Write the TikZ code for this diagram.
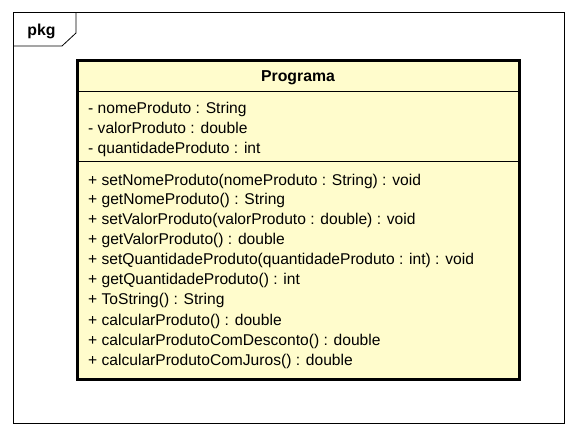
\documentclass[tikz,border=0pt]{standalone}
\usepackage{fontspec}
\setmainfont{Liberation Sans}
\tikzset{
  member/.style={anchor=base west, inner sep=0pt, font=\fontsize{15.6}{18}\selectfont},
  title/.style={anchor=base, inner sep=0pt, font=\bfseries\fontsize{15.8}{18}\selectfont},
  classfill/.style={fill=yellow!20!white}
}
\begin{document}
\begin{tikzpicture}[x=1pt,y=-1pt]
        \useasboundingbox (0,0) rectangle (577,436);
        % package frame
        \draw[line width=1pt] (13,13) rectangle (564,423);
        \draw[line width=0.8pt] (13,46) -- (62,46) -- (76,33) -- (76,13);
        \node[title] (pkg) at (41.5,35) {pkg};

        % class box
        \draw[classfill, line width=3pt] (77,60) rectangle (519,379);
        \draw[line width=0.8pt] (78.5,91) -- (517.5,91);
        \draw[line width=0.8pt] (78.5,161) -- (517.5,161);
        \node[title] (nome) at (298,81.5) {Programa};

        % attributes
        \node[member] (a1) at (88,113.5) {- nomeProduto : String};
        \node[member] (a2) at (88,133.5) {- valorProduto : double};
        \node[member] (a3) at (88,153.5) {- quantidadeProduto : int};

        % operations
        \node[member] (m1) at (88,185) {+ setNomeProduto(nomeProduto : String) : void};
        \node[member] (m2) at (88,204.5) {+ getNomeProduto() : String};
        \node[member] (m3) at (88,224.5) {+ setValorProduto(valorProduto : double) : void};
        \node[member] (m4) at (88,244.5) {+ getValorProduto() : double};
        \node[member] (m5) at (88,264.5) {+ setQuantidadeProduto(quantidadeProduto : int) : void};
        \node[member] (m6) at (88,284.5) {+ getQuantidadeProduto() : int};
        \node[member] (m7) at (88,304.5) {+ ToString() : String};
        \node[member] (m8) at (88,325) {+ calcularProduto() : double};
        \node[member] (m9) at (88,345) {+ calcularProdutoComDesconto() : double};
        \node[member] (m10) at (88,365) {+ calcularProdutoComJuros() : double};
\end{tikzpicture}
\end{document}
